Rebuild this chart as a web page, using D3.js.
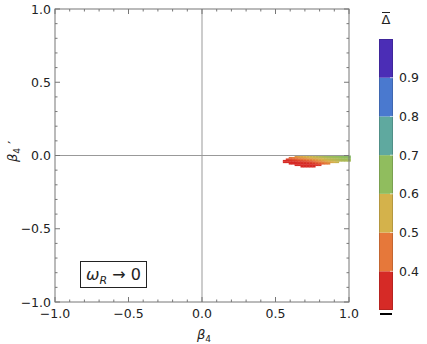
<!DOCTYPE html>
<meta charset="utf-8">
<style>
body { margin: 0; background: white; }
text { font-family: "DejaVu Sans", sans-serif; fill: #222; }
</style>
<body>
<script src="https://d3js.org/d3.v7.min.js"></script>
<script>

const width = 427
const height = 344

// grid of the region: beta4 columns, beta4' rows, mean Delta per cell (null = empty)
const beta4 = [0.56, 0.58, 0.60, 0.62, 0.64, 0.66, 0.68, 0.70, 0.72, 0.74, 0.76, 0.78,
  0.80, 0.82, 0.84, 0.86, 0.88, 0.90, 0.92, 0.94, 0.96, 0.98, 1.00]
const beta4p = [0.00, -0.01, -0.02, -0.03, -0.04, -0.05, -0.06, -0.07]
const n = null
const delta = [
  [n, n, n, n, .50, .52, .53, .55, .56, .57, .58, .59, .60, .61, .62, .63, .64, .64, .65, .65, .66, .66, .67],
  [n, n, .44, .46, .48, .50, .51, .52, .54, .55, .56, .57, .58, .59, .60, .61, .62, .63, .63, .64, .65, .65, .66],
  [n, .38, .40, .41, .42, .44, .45, .46, .48, .49, .51, .52, .54, .55, .57, .58, .59, .60, .61, .62, .63, .63, .64],
  [.35, .35, .36, .37, .38, .39, .40, .41, .42, .44, .46, .48, .50, .52, .54, .55, .57, .58, .59, .60, .61, .61, .62],
  [.34, .34, .35, .35, .35, .36, .36, .37, .38, .39, .41, .43, .45, .47, .49, .51, .53, .55, .57, n, n, n, n],
  [n, n, .33, .33, .34, .34, .34, .35, .35, .36, .37, .39, .41, .43, .45, .47, n, n, n, n, n, n, n],
  [n, n, n, n, .32, .33, .33, .33, .34, .34, .35, .36, .37, n, n, n, n, n, n, n, n, n, n],
  [n, n, n, n, n, n, .32, .32, .33, .33, .34, n, n, n, n, n, n, n, n, n, n, n, n]
]

// colour bar
const barBreaks = [0.3, 0.4, 0.5, 0.6, 0.7, 0.8, 0.9, 1.0]
const barColors = ['#d62a26', '#e6783a', '#d4b24b', '#90bd5e', '#5fa99f', '#4a79cf', '#4b2db6']
const barTicks = [0.4, 0.5, 0.6, 0.7, 0.8, 0.9]
const axisTicks = [-1.0, -0.5, 0.0, 0.5, 1.0]

const svg = d3.select('body').append('svg')
  .attr('width', width)
  .attr('height', height)

const x = d3.scaleLinear().domain([-1, 1]).range([55, 349])
const y = d3.scaleLinear().domain([-1, 1]).range([302, 9])

// continuous colour through the bar's band midpoints
const mids = barColors.map((c, i) => (barBreaks[i] + barBreaks[i + 1]) / 2)
const color = d3.scaleLinear().domain(mids).range(barColors).clamp(true)

// soften the cell edges a little
svg.append('defs').append('filter').attr('id', 'soft')
  .append('feGaussianBlur').attr('stdDeviation', 0.5)

// region cells
const cells = []
delta.forEach((row, j) => row.forEach((v, i) => {
  if (v !== null) cells.push({ b: beta4[i], bp: beta4p[j], v: v })
}))
const cw = x(0.02) - x(0)
svg.append('g').attr('filter', 'url(#soft)').selectAll('rect')
  .data(cells)
  .enter()
  .append('rect')
  .attr('x', d => x(d.b) - cw / 2)
  .attr('y', d => y(d.bp))
  .attr('width', cw + 0.4)
  .attr('height', y(-0.01) - y(0) + 0.3)
  .attr('fill', d => color(d.v))

// zero lines
svg.append('line').attr('x1', x(0)).attr('x2', x(0)).attr('y1', y(-1)).attr('y2', y(1))
  .attr('stroke', '#999').attr('stroke-width', 1)
svg.append('line').attr('x1', x(-1)).attr('x2', x(1)).attr('y1', y(0)).attr('y2', y(0))
  .attr('stroke', '#999').attr('stroke-width', 1)

// frame with inward ticks
const minor = d3.range(-10, 11).map(k => k / 10)
const frame = svg.append('g').attr('stroke', '#777').attr('stroke-width', 1)
frame.append('rect')
  .attr('x', x(-1)).attr('y', y(1))
  .attr('width', x(1) - x(-1)).attr('height', y(-1) - y(1))
  .attr('fill', 'none')
minor.forEach(t => {
  const major = Math.abs(t * 2 - Math.round(t * 2)) < 1e-6
  const len = major ? 5 : 2.5
  frame.append('line').attr('x1', x(t)).attr('x2', x(t)).attr('y1', y(-1)).attr('y2', y(-1) - len)
  frame.append('line').attr('x1', x(t)).attr('x2', x(t)).attr('y1', y(1)).attr('y2', y(1) + len)
  frame.append('line').attr('y1', y(t)).attr('y2', y(t)).attr('x1', x(-1)).attr('x2', x(-1) + len)
  frame.append('line').attr('y1', y(t)).attr('y2', y(t)).attr('x1', x(1)).attr('x2', x(1) - len)
})

const fmt = d => (d < 0 ? '\u2212' : '') + Math.abs(d).toFixed(1)
svg.append('g').selectAll('text')
  .data(axisTicks)
  .enter()
  .append('text')
  .attr('x', d => x(d))
  .attr('y', 318)
  .attr('text-anchor', 'middle')
  .attr('font-size', 12.5)
  .text(fmt)
svg.append('g').selectAll('text')
  .data(axisTicks)
  .enter()
  .append('text')
  .attr('x', 51)
  .attr('y', d => y(d) + 4.5)
  .attr('text-anchor', 'end')
  .attr('font-size', 12.5)
  .text(fmt)

// axis labels
const xl = svg.append('text').attr('x', 197).attr('y', 339).attr('font-size', 13)
xl.append('tspan').attr('font-style', 'italic').text('\u03b2')
xl.append('tspan').attr('font-size', 9).attr('dy', 3).text('4')

const yl = svg.append('text')
  .attr('transform', 'translate(17,162) rotate(-90)')
  .attr('font-size', 13)
yl.append('tspan').attr('font-style', 'italic').text('\u03b2')
yl.append('tspan').attr('font-size', 9).attr('dy', 3).text('4')
yl.append('tspan').attr('dy', -3).text(' \u2032')

// legend box
svg.append('rect').attr('x', 80.5).attr('y', 261.5).attr('width', 66).attr('height', 26)
  .attr('fill', 'white').attr('stroke', '#222').attr('stroke-width', 1)
const lt = svg.append('text').attr('x', 86).attr('y', 280).attr('font-size', 16)
lt.append('tspan').attr('font-style', 'italic').text('\u03c9')
lt.append('tspan').attr('font-size', 11).attr('font-style', 'italic').attr('dy', 4).text('R')
lt.append('tspan').attr('dy', -4).text(' \u2192 0')

// colour bar
const cy = d3.scaleLinear().domain([0.3, 1.0]).range([310, 39])
const bx = 379, bw = 14
svg.append('g').selectAll('rect')
  .data(barColors)
  .enter()
  .append('rect')
  .attr('x', bx)
  .attr('y', (d, i) => cy(barBreaks[i + 1]))
  .attr('width', bw)
  .attr('height', (d, i) => cy(barBreaks[i]) - cy(barBreaks[i + 1]))
  .attr('fill', d => d)
svg.append('rect').attr('x', bx + 0.5).attr('y', cy(1) + 0.5).attr('width', bw - 1)
  .attr('height', cy(0.3) - cy(1) - 1).attr('fill', 'none')
  .attr('stroke', 'rgba(0,0,0,0.15)')
svg.append('g').selectAll('line')
  .data(barTicks)
  .enter()
  .append('line')
  .attr('x1', bx + bw - 3).attr('x2', bx + bw)
  .attr('y1', d => cy(d)).attr('y2', d => cy(d))
  .attr('stroke', 'rgba(255,255,255,0.6)')
svg.append('g').selectAll('text')
  .data(barTicks)
  .enter()
  .append('text')
  .attr('x', 399)
  .attr('y', d => cy(d) + 4.5)
  .attr('font-size', 12.5)
  .text(d => d.toFixed(1))
svg.append('rect').attr('x', bx + 1).attr('y', 313).attr('width', bw - 2).attr('height', 2)
  .attr('fill', '#000')

// bar title: Delta with overbar
svg.append('text').attr('x', bx + bw / 2).attr('y', 24).attr('text-anchor', 'middle')
  .attr('font-size', 13).text('\u0394')
svg.append('line').attr('x1', bx + 3).attr('x2', bx + bw - 3).attr('y1', 12.5).attr('y2', 12.5)
  .attr('stroke', '#222').attr('stroke-width', 1)

</script>
</body>
</html>
